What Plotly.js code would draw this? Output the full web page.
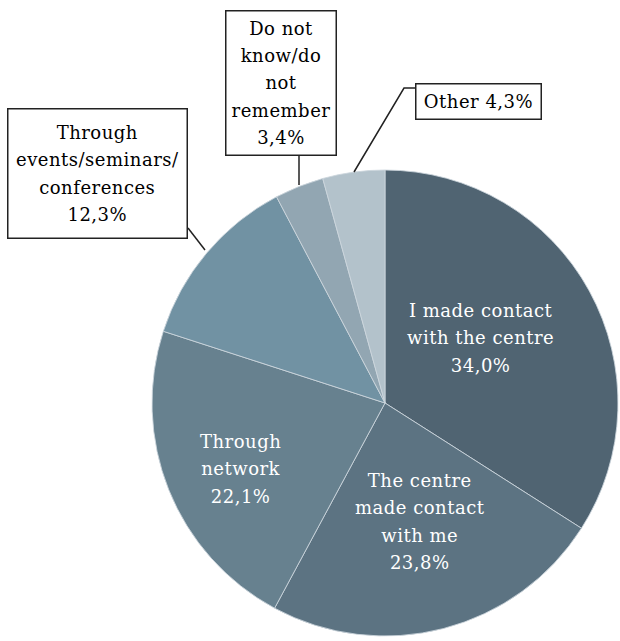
<!DOCTYPE html>
<html>
<head>
<meta charset="utf-8">
<script src="https://cdn.plot.ly/plotly-3.0.1.min.js"></script>
<style>html,body{margin:0;padding:0;background:#fff;}#chart{width:620px;height:641px;}</style>
</head>
<body>
<div id="chart"></div>
<script>
// ---- data ----
var categories = [
  "I made contact with the centre",
  "The centre made contact with me",
  "Through network",
  "Through events/seminars/conferences",
  "Do not know/do not remember",
  "Other"
];
var values = [34.0, 23.8, 22.1, 12.3, 3.4, 4.3];
var labelLines = [
  ["I made contact", "with the centre"],
  ["The centre", "made contact", "with me"],
  ["Through", "network"],
  ["Through", "events/seminars/", "conferences"],
  ["Do not", "know/do", "not", "remember"],
  ["Other"]
];
var colors = ["#506472", "#5c7382", "#67818f", "#7192a3", "#92a6b2", "#b3c2cb"];

// ---- layout helpers ----
var W = 620, H = 641;
function px(x){ return x / W; }
function py(y){ return 1 - y / H; }
function pct(v){ return v.toFixed(1).replace('.', ',') + '%'; }
function wrap(lines){
  return lines.map(function(l){ return '<span style="font-size:18px;letter-spacing:0.5px">' + l + '</span>'; }).join('<br>');
}

// pie geometry (pixels): centre (385,403), radius 233
var cx = 385, cy = 403, R = 233;

var trace = {
  type: 'pie',
  labels: categories,
  values: values,
  sort: false,
  direction: 'clockwise',
  rotation: 0,
  marker: { colors: colors, line: { color: 'rgba(205,214,221,0.85)', width: 1 } },
  textinfo: 'none',
  hoverinfo: 'label+percent',
  showlegend: false,
  domain: { x: [px(cx - R), px(cx + R)], y: [py(cy + R), py(cy - R)] }
};

// label placement (pixels)
var placements = [
  { x: 480, y: 338, inside: true },
  { x: 420, y: 521, inside: true },
  { x: 240, y: 469, inside: true },
  { x: 97,  y: 173, inside: false, w: 180, h: 130 },
  { x: 280.5, y: 82.5, inside: false, w: 111, h: 145 },
  { x: 478, y: 101, inside: false, w: 126, h: 36, oneLine: true }
];

var annotations = categories.map(function(c, i){
  var p = placements[i];
  var lines = labelLines[i].slice();
  if (p.oneLine) {
    lines = [lines.join(' ') + ' ' + pct(values[i])];
  } else {
    lines.push(pct(values[i]));
  }
  var a = {
    xref: 'paper', yref: 'paper',
    x: px(p.x), y: py(p.y),
    xanchor: 'center', yanchor: 'middle',
    showarrow: false,
    text: wrap(lines),
    align: 'center',
    font: { family: 'DejaVu Serif', size: 21, color: p.inside ? '#ffffff' : '#000000' }
  };
  if (!p.inside) {
    a.bgcolor = '#ffffff';
    a.bordercolor = '#222222';
    a.borderwidth = 1.5;
    a.borderpad = 0;
    a.width = p.w - 2;
    a.height = p.h - 2;
    a.valign = 'middle';
  }
  return a;
});

// leader lines (pixels)
var leaders = [
  [[188, 228], [205, 250]],
  [[299, 155], [299, 185]],
  [[354, 172], [404, 88], [415, 88]]
];
var shapes = leaders.map(function(pts){
  var d = pts.map(function(p, j){ return (j ? 'L' : 'M') + px(p[0]) + ',' + py(p[1]); }).join(' ');
  return { type: 'path', xref: 'paper', yref: 'paper', path: d, line: { color: '#222222', width: 1.5 }, layer: 'above' };
});

var layout = {
  width: W, height: H,
  margin: { l: 0, r: 0, t: 0, b: 0 },
  paper_bgcolor: '#ffffff',
  plot_bgcolor: '#ffffff',
  showlegend: false,
  annotations: annotations,
  shapes: shapes
};

Plotly.newPlot('chart', [trace], layout, { displayModeBar: false, staticPlot: true });
</script>
</body>
</html>
